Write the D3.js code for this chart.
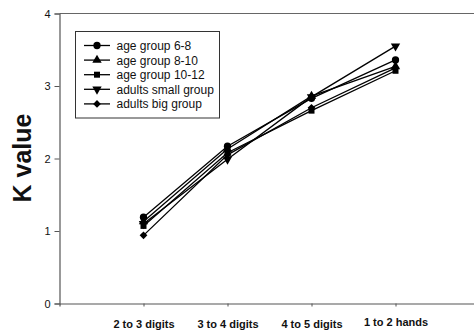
<!DOCTYPE html>
<html lang="en">
  <head>
    <meta charset="UTF-8" />
    <title>K value chart</title>
    <style>
      body { margin: 0; background: #fff; }
      text { font-family: "Liberation Sans", Arial, sans-serif; }
    </style>
  </head>
  <body>
    <svg id="svg" width="474" height="332"></svg>
    <script src="https://d3js.org/d3.v7.min.js"></script>
    <script>
      // data
      const categories = ["2 to 3 digits", "3 to 4 digits", "4 to 5 digits", "1 to 2 hands"];
      const seriesNames = ["age group 6-8", "age group 8-10", "age group 10-12", "adults small group", "adults big group"];
      const group68 = [1.19, 2.17, 2.83, 3.36];
      const group810 = [1.13, 2.13, 2.86, 3.27];
      const group1012 = [1.07, 2.08, 2.66, 3.21];
      const adultsSmall = [1.10, 1.99, 2.85, 3.55];
      const adultsBig = [0.94, 2.05, 2.70, 3.25];
      const yTicks = [0, 1, 2, 3, 4];

      const series = [group68, group810, group1012, adultsSmall, adultsBig];
      const symbols = [d3.symbolCircle, d3.symbolTriangle, d3.symbolSquare, d3.symbolTriangle, d3.symbolSquare];
      const rotations = [0, 0, 0, 180, 45];
      const sizes = [42, 38, 36, 38, 30];

      const svg = d3.select("#svg");
      const x = d3.scaleLinear().domain([0, 5]).range([59.5, 479.5]);
      const y = d3.scaleLinear().domain([0, 4]).range([303.5, 13.5]);

      // frame top line
      svg.append("line")
        .attr("x1", 59.5).attr("x2", 474)
        .attr("y1", y(4)).attr("y2", y(4))
        .attr("stroke", "#666").attr("stroke-width", 1.2);

      // y axis
      const yAxis = svg.append("g")
        .attr("transform", "translate(59.5,0)")
        .call(d3.axisLeft(y).tickValues(yTicks).tickSize(5).tickPadding(4).tickFormat(d3.format("d")));
      yAxis.select(".domain").attr("stroke", "#555").attr("stroke-width", 1.2);
      yAxis.selectAll(".tick line").attr("stroke", "#555");
      yAxis.selectAll("text").attr("font-size", 11).attr("fill", "#111")
        .style("font-family", "'Liberation Sans', Arial, sans-serif");

      // x axis
      const xAxis = svg.append("g")
        .attr("transform", "translate(0,303.5)")
        .call(d3.axisBottom(x).tickValues([1, 2, 3, 4]).tickSize(3).tickPadding(14)
          .tickFormat((d) => categories[d - 1]));
      xAxis.select(".domain").attr("stroke", "#555").attr("stroke-width", 1.2);
      xAxis.selectAll(".tick line").attr("stroke", "#555");
      xAxis.selectAll("text").attr("font-size", 11).attr("font-weight", "bold").attr("fill", "#111")
        .style("font-family", "'Liberation Sans', Arial, sans-serif");
      xAxis.selectAll(".tick").filter((d) => d === 4).select("text").attr("dy", "0.5em");

      // y axis title
      svg.append("text")
        .attr("transform", "translate(31,158) rotate(-90)")
        .attr("text-anchor", "middle")
        .attr("font-size", 25)
        .attr("font-weight", "bold")
        .attr("fill", "#111")
        .text("K value");

      // lines and markers
      const line = d3.line().x((d, i) => x(i + 1)).y((d) => y(d));
      series.forEach((vals, s) => {
        svg.append("path")
          .datum(vals)
          .attr("d", line)
          .attr("fill", "none")
          .attr("stroke", "#000")
          .attr("stroke-width", 1.3);
        svg.selectAll(".m" + s)
          .data(vals)
          .enter()
          .append("path")
          .attr("class", "m" + s)
          .attr("d", d3.symbol().type(symbols[s]).size(sizes[s]))
          .attr("transform", (d, i) => `translate(${x(i + 1)},${y(d)}) rotate(${rotations[s]})`)
          .attr("fill", "#000");
      });

      // legend
      const legend = svg.append("g");
      legend.append("rect")
        .attr("x", 75.5).attr("y", 31.5).attr("width", 144).attr("height", 86.5)
        .attr("fill", "#fff").attr("stroke", "#333").attr("stroke-width", 1);
      seriesNames.forEach((name, s) => {
        const ly = 45.5 + s * 14.6;
        legend.append("line")
          .attr("x1", 84).attr("x2", 110).attr("y1", ly).attr("y2", ly)
          .attr("stroke", "#000").attr("stroke-width", 1.3);
        legend.append("path")
          .attr("d", d3.symbol().type(symbols[s]).size(sizes[s]))
          .attr("transform", `translate(97,${ly}) rotate(${rotations[s]})`)
          .attr("fill", "#000");
        legend.append("text")
          .attr("x", 116.5).attr("y", ly + 4.4)
          .attr("font-size", 12)
          .attr("fill", "#111")
          .text(name);
      });
    </script>
  </body>
</html>
